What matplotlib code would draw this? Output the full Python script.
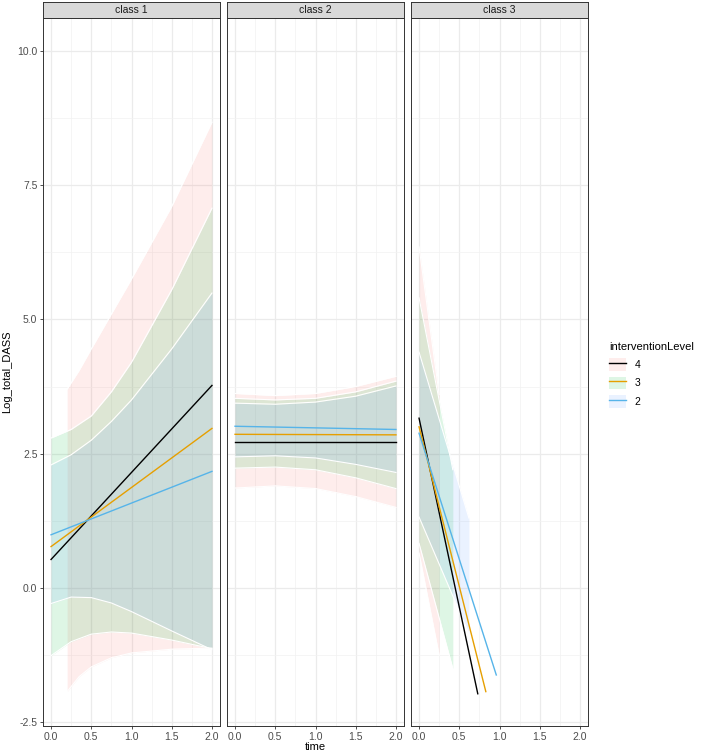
import numpy as np
import matplotlib.pyplot as plt
from matplotlib.patches import Patch
from matplotlib.lines import Line2D

plt.rcParams['font.family'] = ['Liberation Sans', 'DejaVu Sans']

# %%
# data
classes = ['class 1', 'class 2', 'class 3']
levels = ['4', '3', '2']
line_colors = {'4': '#000000', '3': '#E69F00', '2': '#56B4E9'}
fill_colors = {'4': '#F8766D', '3': '#00BA38', '2': '#619CFF'}

# fitted lines: (start time, end time, start value, end value)
lines_c1 = {'4': [0.0, 2.0, 0.53, 3.77], '3': [0.0, 2.0, 0.77, 2.97], '2': [0.0, 2.0, 0.99, 2.17]}
lines_c2 = {'4': [0.0, 2.0, 2.72, 2.72], '3': [0.0, 2.0, 2.86, 2.85], '2': [0.0, 2.0, 3.01, 2.95]}
lines_c3 = {'4': [0.0, 0.73, 3.16, -1.97], '3': [0.0, 0.83, 3.0, -1.93], '2': [0.0, 0.96, 2.88, -1.62]}

# confidence ribbons
band_c1_x = {'4': [0.2, 0.35, 0.5, 0.75, 1.0, 1.5, 2.0],
             '3': [0.0, 0.25, 0.5, 0.75, 1.0, 1.5, 2.0],
             '2': [0.0, 0.25, 0.5, 0.75, 1.0, 1.5, 2.0]}
band_c1_hi = {'4': [3.7, 4.05, 4.45, 5.1, 5.75, 7.1, 8.67],
              '3': [2.79, 2.95, 3.2, 3.65, 4.2, 5.55, 7.07],
              '2': [2.29, 2.48, 2.75, 3.1, 3.5, 4.45, 5.49]}
band_c1_lo = {'4': [-1.93, -1.65, -1.47, -1.3, -1.21, -1.14, -1.12],
              '3': [-1.26, -1.0, -0.86, -0.82, -0.84, -0.97, -1.13],
              '2': [-0.29, -0.17, -0.18, -0.28, -0.44, -0.8, -1.15]}

band_c2_x = {'4': [0.0, 0.5, 1.0, 1.5, 2.0], '3': [0.0, 0.5, 1.0, 1.5, 2.0], '2': [0.0, 0.5, 1.0, 1.5, 2.0]}
band_c2_hi = {'4': [3.62, 3.58, 3.62, 3.75, 3.94], '3': [3.53, 3.5, 3.53, 3.65, 3.85], '2': [3.44, 3.42, 3.46, 3.57, 3.76]}
band_c2_lo = {'4': [1.86, 1.9, 1.85, 1.7, 1.5], '3': [2.23, 2.25, 2.2, 2.05, 1.85], '2': [2.44, 2.46, 2.42, 2.3, 2.15]}

band_c3_x = {'4': [0.0, 0.25], '3': [0.0, 0.42], '2': [0.0, 0.62]}
band_c3_hi = {'4': [6.35, 3.6], '3': [5.4, 2.2], '2': [4.39, 1.3]}
band_c3_lo = {'4': [0.65, -1.25], '3': [0.83, -1.5], '2': [1.32, -0.85]}

x_ticks = [0.0, 0.5, 1.0, 1.5, 2.0]
y_ticks = [-2.5, 0.0, 2.5, 5.0, 7.5, 10.0]

all_lines = [lines_c1, lines_c2, lines_c3]
all_bx = [band_c1_x, band_c2_x, band_c3_x]
all_bhi = [band_c1_hi, band_c2_hi, band_c3_hi]
all_blo = [band_c1_lo, band_c2_lo, band_c3_lo]

# %%
W, H = 709, 754
fig = plt.figure(figsize=(W / 100, H / 100), dpi=100)

panel_left = [43, 227, 411]
panel_w = 177
top, bottom = 18, 726

for i, cls in enumerate(classes):
    ax = fig.add_axes([panel_left[i] / W, 1 - bottom / H, panel_w / W, (bottom - top) / H])
    ax.set_xlim(-0.1, 2.1)
    ax.set_ylim(-2.57, 10.61)
    ax.set_xticks(x_ticks)
    ax.set_xticks([0.25, 0.75, 1.25, 1.75], minor=True)
    ax.set_yticks(y_ticks)
    ax.set_yticks([-1.25, 1.25, 3.75, 6.25, 8.75], minor=True)
    ax.set_xticklabels(['%.1f' % t for t in x_ticks])
    ax.grid(which='major', color='#EBEBEB', lw=0.9)
    ax.grid(which='minor', color='#F2F2F2', lw=0.5)
    ax.set_axisbelow(True)
    ax.tick_params(which='minor', length=0)
    ax.tick_params(which='major', labelsize=7.5, labelcolor='#4D4D4D', color='#333333',
                   length=2.5, width=0.6, pad=1.5)
    if i == 0:
        ax.set_yticklabels(['%.1f' % t for t in y_ticks])
        ax.set_ylabel('Log_total_DASS', fontsize=8, labelpad=4)
    else:
        ax.tick_params(axis='y', which='both', left=False, labelleft=False)
    if i == 1:
        ax.set_xlabel('time', fontsize=8, labelpad=0)
    for s in ax.spines.values():
        s.set_color('#333333')
        s.set_linewidth(0.7)

    # ribbons first, then fitted lines on top
    for lv in levels:
        bx = all_bx[i][lv]
        ax.fill_between(bx, all_blo[i][lv], all_bhi[i][lv], color=fill_colors[lv], alpha=0.13, lw=0)
        ax.plot(bx, all_bhi[i][lv], color='white', lw=0.8)
        ax.plot(bx, all_blo[i][lv], color='white', lw=0.8)
    for lv in levels:
        x0, x1, y0, y1 = all_lines[i][lv]
        ax.plot([x0, x1], [y0, y1], color=line_colors[lv], lw=1.0)

    # facet strip
    sax = fig.add_axes([panel_left[i] / W, 1 - top / H, panel_w / W, 16 / H])
    sax.set_facecolor('#D9D9D9')
    sax.set_xticks([])
    sax.set_yticks([])
    for s in sax.spines.values():
        s.set_color('#333333')
        s.set_linewidth(0.7)
    sax.text(0.5, 0.5, cls, ha='center', va='center', fontsize=7.5, color='#1A1A1A', transform=sax.transAxes)

# legend
handles = [(Patch(facecolor=fill_colors[lv], alpha=0.13, lw=0), Line2D([], [], color=line_colors[lv], lw=1.0))
           for lv in levels]
fig.legend(handles, levels, title='interventionLevel', loc='upper left', bbox_to_anchor=(600 / W, 1 - 333 / H),
           frameon=False, fontsize=7.5, title_fontsize=8, alignment='left', handlelength=1.6, handleheight=1.5,
           labelspacing=0.55, handletextpad=0.8)

fig.savefig('out.png', dpi=100)
